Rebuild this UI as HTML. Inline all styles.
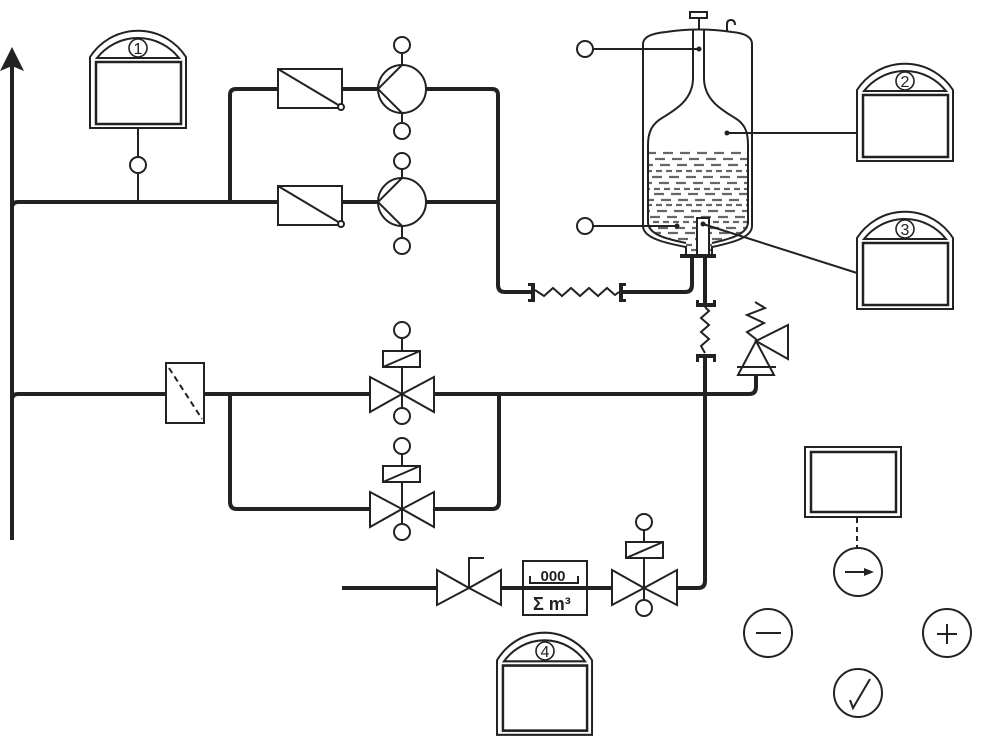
<!DOCTYPE html>
<html>
<head>
<meta charset="utf-8">
<style>
html,body{margin:0;padding:0;background:#fff;}
svg{display:block;}
text{font-family:"Liberation Sans",sans-serif;fill:#222;}
</style>
</head>
<body>
<svg width="983" height="747" viewBox="0 0 983 747" xmlns="http://www.w3.org/2000/svg">
<defs>
  <g id="pnl">
    <path d="M0,26 A57,57 0 0 1 96,26 L96,97 L0,97 Z" fill="#fff" stroke="#222" stroke-width="2"/>
    <path d="M7,27 A52,52 0 0 1 89,27 Z" fill="none" stroke="#222" stroke-width="2"/>
    <rect x="6" y="31" width="85" height="62" fill="none" stroke="#222" stroke-width="2.5"/>
  </g>
  <clipPath id="bottle">
    <path d="M693,29 L693,78 C693,100 675,110 662,118 C652,124 648,132 648,145 L648,222 C648,236 672,240 686,243 L686,255 L712,255 L712,243 C724,240 748,236 748,222 L748,145 C748,132 745,124 735,118 C722,110 704,100 704,78 L704,29 Z"/>
  </clipPath>
</defs>

<!-- ===== Thick pipes ===== -->
<g fill="none" stroke="#222" stroke-width="4" stroke-linejoin="round">
  <line x1="12" y1="64" x2="12" y2="540"/>
  <path d="M12,208 Q12,202 18,202 L278,202"/>
  <path d="M230,202 L230,95 Q230,89 236,89 L278,89"/>
  <line x1="342" y1="89" x2="378" y2="89"/>
  <line x1="342" y1="202" x2="378" y2="202"/>
  <path d="M426,89 L492,89 Q498,89 498,95 L498,285 Q498,292 505,292 L531,292"/>
  <line x1="426" y1="202" x2="498" y2="202"/>
  <path d="M623,292 L685,292 Q692,292 692,285 L692,258"/>
  <line x1="705" y1="258" x2="705" y2="304"/>
  <path d="M705,357 L705,581 Q705,588 698,588 L677,588"/>
  <line x1="342" y1="588" x2="437" y2="588"/>
  <line x1="501" y1="588" x2="612" y2="588"/>
  <path d="M12,400 Q12,394 18,394 L166,394"/>
  <line x1="204" y1="394" x2="370" y2="394"/>
  <path d="M434,394 L749,394 Q756,394 756,387 L756,375"/>
  <path d="M230,394 L230,502 Q230,509 237,509 L370,509"/>
  <path d="M434,509 L492,509 Q499,509 499,502 L499,394"/>
</g>
<!-- arrow head -->
<path d="M12,47 L24,71 L12,66 L0,71 Z" fill="#222"/>

<!-- ===== Panel 1 ===== -->
<use href="#pnl" transform="translate(90,31)"/>
<circle cx="138" cy="48" r="9" fill="#fff" stroke="#222" stroke-width="1.6"/>
<text x="138" y="54" font-size="16" text-anchor="middle">1</text>
<g stroke="#222" stroke-width="2" fill="#fff">
  <line x1="138" y1="128" x2="138" y2="157"/>
  <line x1="138" y1="173" x2="138" y2="202"/>
  <circle cx="138" cy="165" r="8"/>
</g>

<!-- ===== Filters & pumps ===== -->
<g stroke="#222" stroke-width="2" fill="#fff">
  <rect x="278" y="69" width="64" height="39"/>
  <line x1="278" y1="69" x2="340" y2="106"/>
  <circle cx="341" cy="107" r="3"/>
  <rect x="278" y="186" width="64" height="39"/>
  <line x1="278" y1="186" x2="340" y2="223"/>
  <circle cx="341" cy="224" r="3"/>

  <circle cx="402" cy="89" r="24"/>
  <path d="M378,89 L402,65 M378,89 L402,113" fill="none"/>
  <line x1="402" y1="53" x2="402" y2="65"/>
  <line x1="402" y1="113" x2="402" y2="123"/>
  <circle cx="402" cy="45" r="8"/>
  <circle cx="402" cy="131" r="8"/>

  <circle cx="402" cy="202" r="24"/>
  <path d="M378,202 L402,178 M378,202 L402,226" fill="none"/>
  <line x1="402" y1="169" x2="402" y2="178"/>
  <line x1="402" y1="226" x2="402" y2="238"/>
  <circle cx="402" cy="161" r="8"/>
  <circle cx="402" cy="246" r="8"/>
</g>

<!-- ===== Tank ===== -->
<g clip-path="url(#bottle)" stroke="#666" stroke-width="2.2">
  <line x1="646" y1="153" x2="750" y2="153" stroke-dasharray="10 7"/>
  <line x1="646" y1="159" x2="750" y2="159" stroke-dasharray="10 7" stroke-dashoffset="8"/>
  <line x1="646" y1="165" x2="750" y2="165" stroke-dasharray="10 7" stroke-dashoffset="3"/>
  <line x1="646" y1="171" x2="750" y2="171" stroke-dasharray="6 4"/>
  <line x1="646" y1="177" x2="750" y2="177" stroke-dasharray="10 7" stroke-dashoffset="11"/>
  <line x1="646" y1="183" x2="750" y2="183" stroke-dasharray="10 7" stroke-dashoffset="4"/>
  <line x1="646" y1="189" x2="750" y2="189" stroke-dasharray="6 4" stroke-dashoffset="2"/>
  <line x1="646" y1="194" x2="750" y2="194" stroke-dasharray="10 7" stroke-dashoffset="9"/>
  <line x1="646" y1="200" x2="750" y2="200" stroke-dasharray="10 7" stroke-dashoffset="2"/>
  <line x1="646" y1="205" x2="750" y2="205" stroke-dasharray="6 4"/>
  <line x1="646" y1="211" x2="750" y2="211" stroke-dasharray="10 7" stroke-dashoffset="6"/>
  <line x1="646" y1="217" x2="750" y2="217" stroke-dasharray="10 7" stroke-dashoffset="13"/>
  <line x1="646" y1="222" x2="750" y2="222" stroke-dasharray="6 4" stroke-dashoffset="3"/>
  <line x1="646" y1="228" x2="750" y2="228" stroke-dasharray="10 7" stroke-dashoffset="5"/>
  <line x1="646" y1="233" x2="750" y2="233" stroke-dasharray="10 7" stroke-dashoffset="12"/>
  <line x1="646" y1="239" x2="750" y2="239" stroke-dasharray="10 7" stroke-dashoffset="2"/>
  <line x1="646" y1="245" x2="750" y2="245" stroke-dasharray="6 4"/>
  <line x1="646" y1="250" x2="750" y2="250" stroke-dasharray="10 7" stroke-dashoffset="6"/>
</g>
<g fill="none" stroke="#222" stroke-width="2">
  <!-- outer shell -->
  <path d="M686,255 L686,247 C665,243 643,238 643,226 L643,44 C643,36 655,33 666,32 Q699,27 732,32 C743,33 752,36 752,44 L752,226 C752,238 731,243 712,247 L712,255"/>
  <!-- inner bottle -->
  <path d="M693,29 L693,78 C693,100 675,110 662,118 C652,124 648,132 648,145 L648,222 C648,236 672,240 686,243"/>
  <path d="M704,29 L704,78 C704,100 722,110 735,118 C745,124 748,132 748,145 L748,222 C748,236 724,240 712,243"/>
  <!-- top fittings -->
  <rect x="690" y="12" width="17" height="6" fill="#fff"/>
  <line x1="699" y1="18" x2="699" y2="29"/>
  <path d="M727,31 L727,24 Q727,20 731,20 Q735,20 735,25"/>
</g>
<!-- dip tube -->
<rect x="697" y="218" width="12" height="37" fill="#fff" stroke="#222" stroke-width="2"/>
<!-- flanges -->
<g fill="#222">
  <rect x="680" y="254" width="36" height="4"/>
  <rect x="531" y="283" width="4" height="19"/>
  <rect x="528" y="283" width="5" height="3"/>
  <rect x="528" y="299" width="5" height="3"/>
  <rect x="619" y="283" width="4" height="19"/>
  <rect x="621" y="283" width="5" height="3"/>
  <rect x="621" y="299" width="5" height="3"/>
  <rect x="696" y="303" width="20" height="4"/>
  <rect x="696" y="300" width="3" height="5"/>
  <rect x="713" y="300" width="3" height="5"/>
  <rect x="696" y="354" width="20" height="4"/>
  <rect x="696" y="356" width="3" height="6"/>
  <rect x="713" y="356" width="3" height="6"/>
</g>
<!-- hoses -->
<g fill="none" stroke="#222" stroke-width="2" stroke-linejoin="miter">
  <path d="M535,290 L544,296 L553,288 L562,296 L571,288 L580,296 L589,288 L598,296 L607,288 L615,295 L619,292"/>
  <path d="M705,307 L709,311 L701,318 L709,325 L701,332 L709,339 L701,346 L705,353"/>
</g>

<!-- tank sensor connections -->
<g stroke="#222" stroke-width="2" fill="#fff">
  <line x1="593" y1="49" x2="699" y2="49"/>
  <circle cx="585" cy="49" r="8"/>
  <line x1="593" y1="226" x2="677" y2="226"/>
  <circle cx="585" cy="226" r="8"/>
  <line x1="727" y1="133" x2="857" y2="133"/>
  <line x1="703" y1="224" x2="857" y2="273"/>
</g>
<g fill="#222">
  <circle cx="699" cy="49" r="2.5"/>
  <circle cx="677" cy="226" r="2.5"/>
  <circle cx="727" cy="133" r="2.5"/>
  <circle cx="703" cy="224" r="2.5"/>
</g>

<!-- ===== Panels 2,3 ===== -->
<use href="#pnl" transform="translate(857,64)"/>
<circle cx="905" cy="81" r="9" fill="#fff" stroke="#222" stroke-width="1.6"/>
<text x="905" y="87" font-size="16" text-anchor="middle">2</text>
<use href="#pnl" transform="translate(857,212)"/>
<circle cx="905" cy="229" r="9" fill="#fff" stroke="#222" stroke-width="1.6"/>
<text x="905" y="235" font-size="16" text-anchor="middle">3</text>

<!-- ===== Relief valve ===== -->
<g stroke="#222" stroke-width="2" fill="#fff" stroke-linejoin="miter">
  <path d="M756,341 L774,375 L738,375 Z"/>
  <line x1="737" y1="367" x2="776" y2="367"/>
  <path d="M756,341 L788,325 L788,359 Z"/>
  <path d="M757,340 L747,332 L764,323 L747,315 L765,308 L755,302" fill="none"/>
</g>

<!-- ===== Row 2: filter and solenoid valves ===== -->
<g stroke="#222" stroke-width="2" fill="#fff">
  <rect x="166" y="363" width="38" height="60"/>
  <line x1="169" y1="368" x2="202" y2="419" stroke-dasharray="6 4"/>

  <path d="M370,377 L370,412 L402,394 Z M434,377 L434,412 L402,394 Z"/>
  <rect x="383" y="351" width="37" height="16"/>
  <line x1="383" y1="367" x2="420" y2="351"/>
  <line x1="402" y1="338" x2="402" y2="351"/>
  <line x1="402" y1="367" x2="402" y2="408"/>
  <circle cx="402" cy="330" r="8"/>
  <circle cx="402" cy="416" r="8"/>

  <path d="M370,492 L370,527 L402,509 Z M434,492 L434,527 L402,509 Z"/>
  <rect x="383" y="466" width="37" height="16"/>
  <line x1="383" y1="482" x2="420" y2="466"/>
  <line x1="402" y1="454" x2="402" y2="466"/>
  <line x1="402" y1="482" x2="402" y2="524"/>
  <circle cx="402" cy="446" r="8"/>
  <circle cx="402" cy="532" r="8"/>
</g>

<!-- ===== Bottom line ===== -->
<g stroke="#222" stroke-width="2" fill="#fff">
  <path d="M437,570 L437,605 L469,588 Z M501,570 L501,605 L469,588 Z"/>
  <path d="M469,588 L469,558 L484,558" fill="none"/>

  <rect x="523" y="561" width="64" height="54" fill="none"/>
  <path d="M530,576 L530,583 L578,583 L578,576" fill="none"/>

  <path d="M612,570 L612,605 L644,588 Z M677,570 L677,605 L644,588 Z"/>
  <rect x="626" y="542" width="37" height="16"/>
  <line x1="626" y1="558" x2="663" y2="542"/>
  <line x1="644" y1="530" x2="644" y2="542"/>
  <line x1="644" y1="558" x2="644" y2="600"/>
  <circle cx="644" cy="522" r="8"/>
  <circle cx="644" cy="608" r="8"/>
</g>
<line x1="523" y1="588" x2="587" y2="588" stroke="#222" stroke-width="4"/>
<text x="553" y="581" font-size="15" text-anchor="middle" font-weight="bold">000</text>
<text x="533" y="610" font-size="18" font-weight="bold">Σ m³</text>

<!-- ===== Panel 4 ===== -->
<use href="#pnl" transform="translate(497,633) scale(0.99,1.05)"/>
<circle cx="545" cy="651" r="9" fill="#fff" stroke="#222" stroke-width="1.6"/>
<text x="545" y="657" font-size="16" text-anchor="middle">4</text>

<!-- ===== Controls ===== -->
<g stroke="#222" stroke-width="2" fill="#fff">
  <rect x="805" y="447" width="96" height="70"/>
  <rect x="811" y="452" width="85" height="60" stroke-width="2.5"/>
  <line x1="857" y1="518" x2="857" y2="548" stroke-dasharray="5 4"/>
  <circle cx="858" cy="572" r="24"/>
  <line x1="845" y1="572" x2="866" y2="572"/>
  <circle cx="768" cy="633" r="24"/>
  <line x1="756" y1="633" x2="781" y2="633"/>
  <circle cx="947" cy="633" r="24"/>
  <line x1="937" y1="634" x2="957" y2="634"/>
  <line x1="947" y1="624" x2="947" y2="644"/>
  <circle cx="858" cy="693" r="24"/>
  <path d="M850,700 L853,708 L870,679" fill="none"/>
</g>
<path d="M874,572 L864,568 L864,576 Z" fill="#222"/>
</svg>
</body>
</html>
